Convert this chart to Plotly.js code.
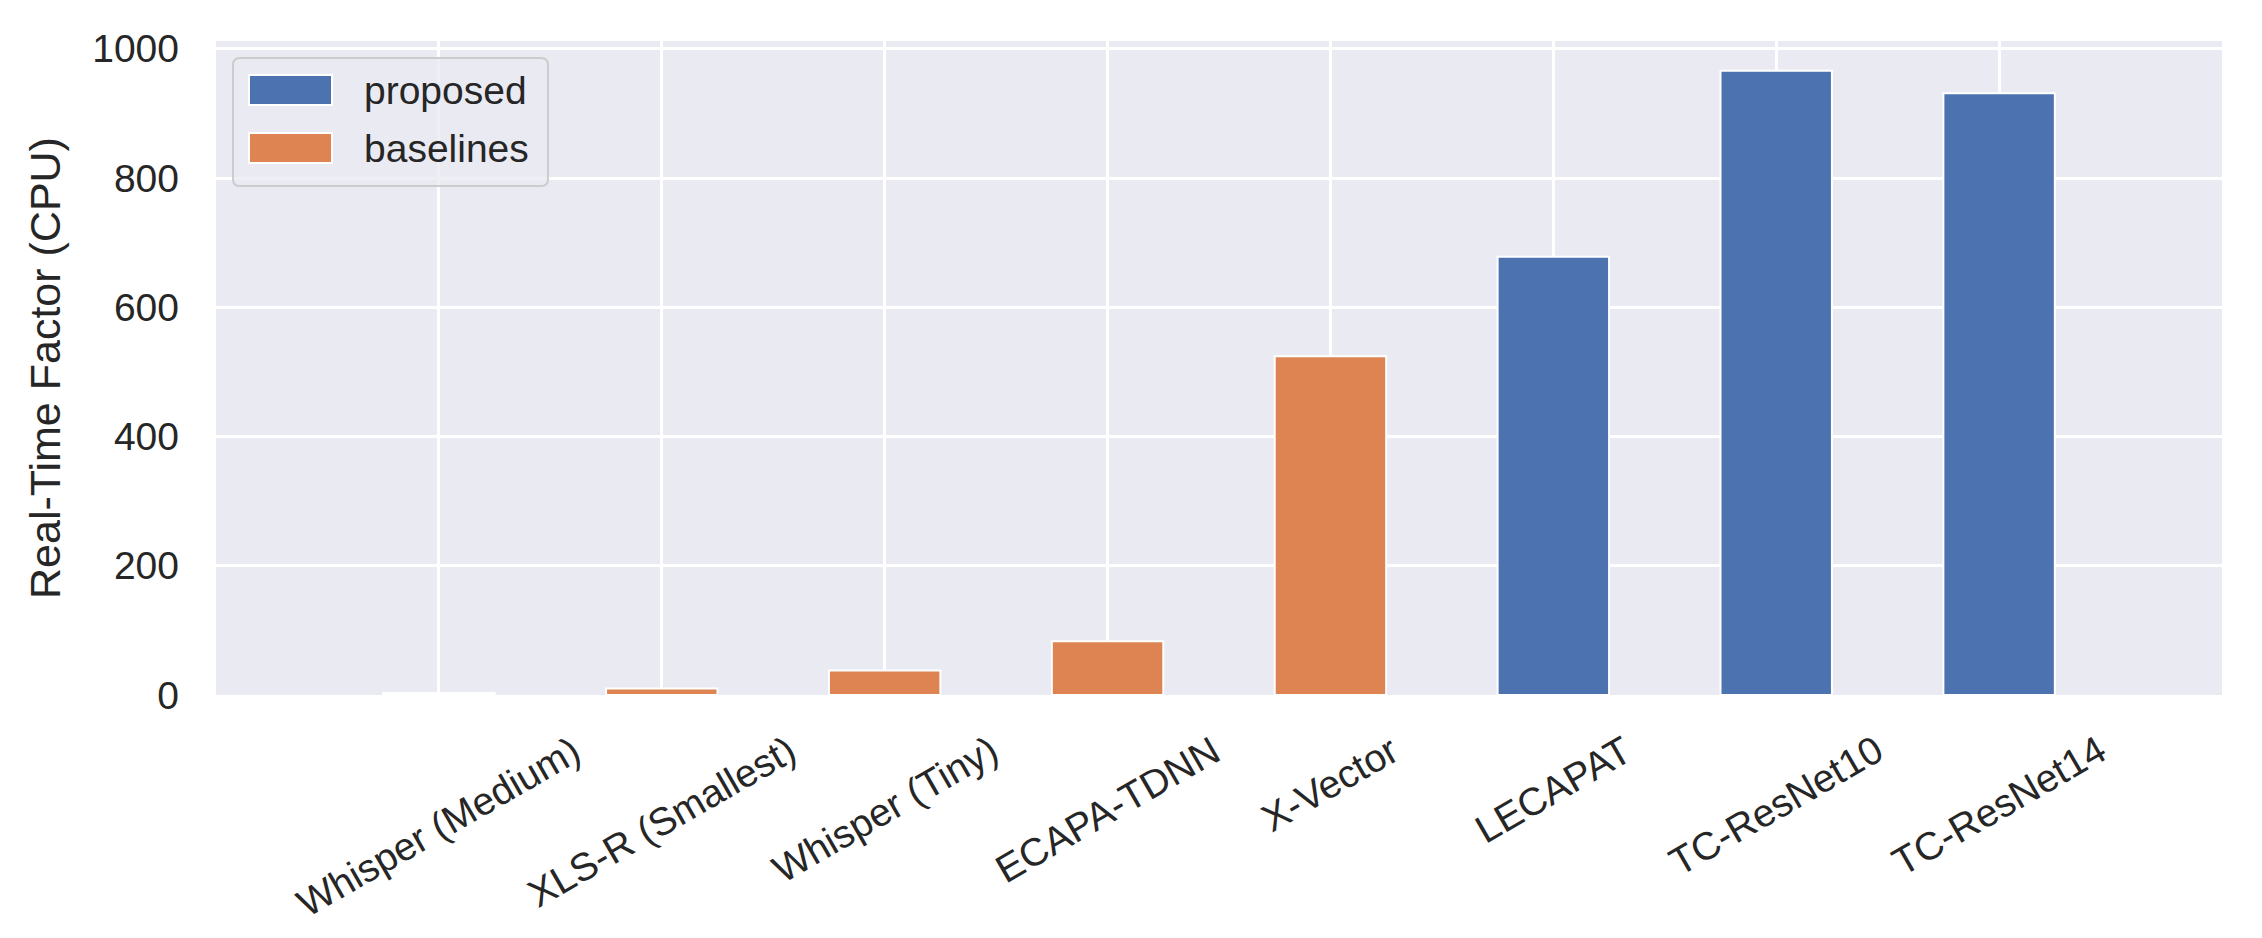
<!DOCTYPE html>
<html>
<head>
<meta charset="utf-8">
<script src="https://cdn.plot.ly/plotly-3.0.1.min.js"></script>
<style>html,body{margin:0;padding:0;background:#fff;}#chart{width:2262px;height:938px;}</style>
</head>
<body>
<div id="chart"></div>
<script>
// Data
const categories = ["Whisper (Medium)", "XLS-R (Smallest)", "Whisper (Tiny)", "ECAPA-TDNN", "X-Vector", "LECAPAT", "TC-ResNet10", "TC-ResNet14"];
const proposedValues = [null, null, null, null, null, 678, 966, 931];
const baselineValues = [3, 10, 38, 83, 524, null, null, null];
const yTickValues = [0, 200, 400, 600, 800, 1000];
const seriesNames = ["proposed", "baselines"];
const seriesColors = ["#4C72B0", "#DD8452"];

const TEXT = "#262626";
const FONT = "Liberation Sans, Arial, sans-serif";

const traces = [
  {
    type: "bar", name: seriesNames[0], x: categories, y: proposedValues, width: 0.5,
    marker: {color: seriesColors[0], line: {color: "#ffffff", width: 2}}, hoverinfo: "x+y", showlegend: false
  },
  {
    type: "bar", name: seriesNames[1], x: categories, y: baselineValues, width: 0.5,
    marker: {color: seriesColors[1], line: {color: "#ffffff", width: 2}}, hoverinfo: "x+y", showlegend: false
  }
];

// rotated category labels (centred under each category, like matplotlib ha='center')
const annotations = categories.map(c => ({
  x: c, xref: "x", y: 0, yref: "paper", yshift: -30,
  text: c, showarrow: false, textangle: -30,
  xanchor: "center", yanchor: "top",
  font: {family: FONT, size: 39, color: TEXT}
}));

// legend drawn in pixels relative to the top-left corner of the plot area
function pxRect(x0, y0, x1, y1, style) {
  return Object.assign({
    type: "rect", xref: "paper", yref: "paper", xsizemode: "pixel", ysizemode: "pixel",
    xanchor: 0, yanchor: 1, x0: x0, x1: x1, y0: -y0, y1: -y1, layer: "above"
  }, style);
}
function roundedPath(x0, y0, x1, y1, r) {
  // y measured downward from plot top; convert to upward pixel offsets
  const a = -y0, b = -y1;
  return `M${x0 + r},${a} L${x1 - r},${a} Q${x1},${a} ${x1},${a - r} L${x1},${b + r} Q${x1},${b} ${x1 - r},${b} ` +
         `L${x0 + r},${b} Q${x0},${b} ${x0},${b + r} L${x0},${a - r} Q${x0},${a} ${x0 + r},${a} Z`;
}
const legendBox = {x0: 17, y0: 17, x1: 332, y1: 145};
const legendRowY = [49, 107];
const shapes = [
  {
    type: "path", xref: "paper", yref: "paper", xsizemode: "pixel", ysizemode: "pixel", xanchor: 0, yanchor: 1,
    path: roundedPath(legendBox.x0, legendBox.y0, legendBox.x1, legendBox.y1, 7),
    fillcolor: "rgba(234,234,242,0.8)", line: {color: "#cccccc", width: 2}, layer: "above"
  }
];
seriesNames.forEach((name, i) => {
  shapes.push(pxRect(33, legendRowY[i] - 15, 116, legendRowY[i] + 15,
    {fillcolor: seriesColors[i], line: {color: "#ffffff", width: 2}}));
  annotations.push({
    x: 0, xref: "paper", y: 1, yref: "paper", xshift: 146, yshift: -legendRowY[i],
    text: name, showarrow: false, xanchor: "left", yanchor: "middle",
    font: {family: FONT, size: 39, color: TEXT}
  });
});

const layout = {
  width: 2262, height: 938,
  margin: {l: 216, r: 40, t: 41, b: 243, pad: 0},
  paper_bgcolor: "#ffffff", plot_bgcolor: "#EAEAF2",
  barmode: "overlay",
  font: {family: FONT, color: TEXT, size: 39},
  showlegend: false,
  xaxis: {
    type: "category", range: [-1, 8], showgrid: true, gridcolor: "#ffffff", gridwidth: 3,
    showticklabels: false, ticks: "", zeroline: false, showline: false, fixedrange: true
  },
  yaxis: {
    range: [0, 1012], tickvals: yTickValues, ticktext: yTickValues.map(String),
    showgrid: true, gridcolor: "#ffffff", gridwidth: 3, zeroline: false, showline: false,
    ticks: "", ticklabelstandoff: 36,
    tickfont: {family: FONT, size: 39, color: TEXT},
    title: {text: "Real-Time Factor (CPU)", font: {family: FONT, size: 43, color: TEXT}, standoff: 18},
    automargin: false, fixedrange: true
  },
  shapes: shapes,
  annotations: annotations
};

Plotly.newPlot("chart", traces, layout, {displayModeBar: false, staticPlot: true});
</script>
</body>
</html>
